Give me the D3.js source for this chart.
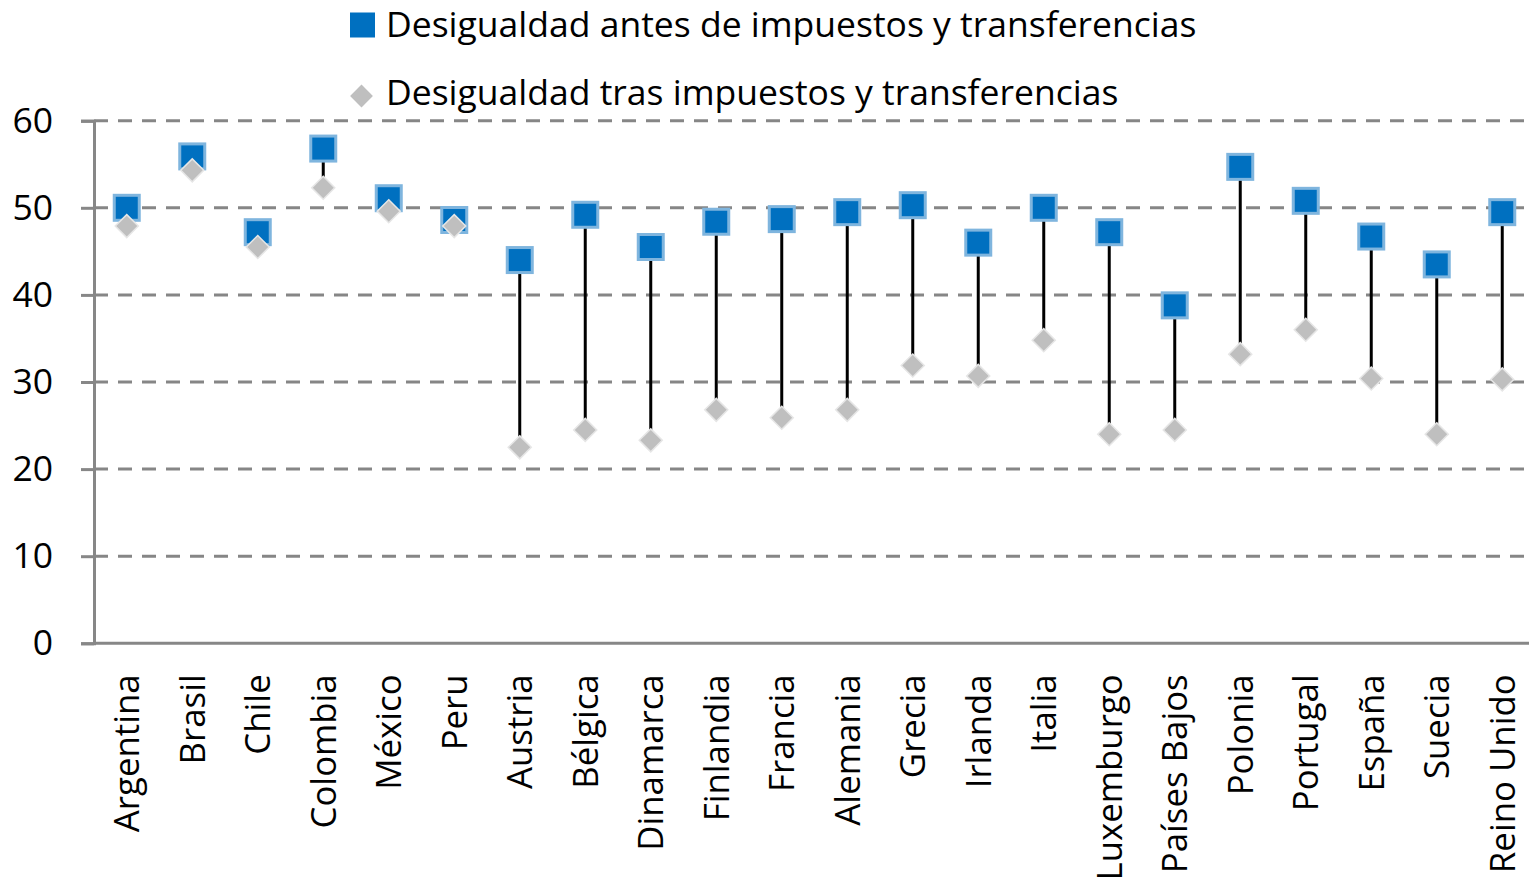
<!DOCTYPE html>
<html lang="es">
<head>
<meta charset="utf-8">
<script src="https://d3js.org/d3.v7.min.js"></script>
<style>
  body { margin: 0; background: #fff; }
  text { font-family: "Open Sans", sans-serif; fill: #000; }
</style>
</head>
<body>
<script>
// countries along the x axis
var countries = ["Argentina", "Brasil", "Chile", "Colombia", "México", "Peru",
  "Austria", "Bélgica", "Dinamarca", "Finlandia", "Francia", "Alemania",
  "Grecia", "Irlanda", "Italia", "Luxemburgo", "Países Bajos", "Polonia",
  "Portugal", "España", "Suecia", "Reino Unido"];

// inequality before taxes and transfers
var antes = [50.0, 55.9, 47.2, 56.8, 51.1, 48.6,
  44.0, 49.2, 45.5, 48.4, 48.7, 49.5,
  50.3, 46.0, 50.0, 47.2, 38.8, 54.7,
  50.8, 46.7, 43.5, 49.5];

// inequality after taxes and transfers
var tras = [47.9, 54.3, 45.5, 52.3, 49.6, 47.9,
  22.5, 24.5, 23.3, 26.8, 25.9, 26.8,
  31.9, 30.7, 34.8, 24.0, 24.5, 33.2,
  36.0, 30.4, 24.0, 30.3];

var yTicks = [0, 10, 20, 30, 40, 50, 60];

var seriesNames = ["Desigualdad antes de impuestos y transferencias",
  "Desigualdad tras impuestos y transferencias"];

var width = 1529, height = 883;
var fontSize = 35.5;
var labelSize = 34.8;

var svg = d3.select("body").append("svg")
  .attr("width", width)
  .attr("height", height);

var x = d3.scaleBand()
  .domain(countries)
  .range([94, 1535]);

var y = d3.scaleLinear()
  .domain([0, 60])
  .range([643.3, 120.7]);

function cx(c) { return x(c) + x.bandwidth() / 2; }

// dashed gridlines
svg.append("g").selectAll("line")
  .data(yTicks.filter(function(d) { return d > 0; }))
  .enter().append("line")
  .attr("x1", 94).attr("x2", width)
  .attr("y1", function(d) { return y(d); })
  .attr("y2", function(d) { return y(d); })
  .attr("stroke", "#868686")
  .attr("stroke-width", 3)
  .attr("stroke-dasharray", "14,10");

// y axis
var yAxis = svg.append("g")
  .attr("transform", "translate(94,0)")
  .call(d3.axisLeft(y).tickValues(yTicks).tickSize(13).tickPadding(28));
yAxis.selectAll("path, line").attr("stroke", "#878787").attr("stroke-width", 3);
yAxis.selectAll("text").style("font-size", fontSize + "px")
  .style("font-family", "'Open Sans', sans-serif").attr("fill", "#000");

// x axis
var xAxis = svg.append("g")
  .attr("transform", "translate(0," + y(0) + ")")
  .call(d3.axisBottom(x).tickSize(0).tickSizeOuter(0));
xAxis.select(".domain").attr("stroke", "#878787").attr("stroke-width", 3)
  .attr("d", "M94,0H" + width);
xAxis.selectAll("text")
  .style("font-size", labelSize + "px")
  .style("font-family", "'Open Sans', sans-serif")
  .attr("fill", "#000")
  .attr("text-anchor", "end")
  .attr("transform", "rotate(-90)")
  .attr("x", -31)
  .attr("y", 0)
  .attr("dy", "0.36em");

var rows = countries.map(function(c, i) {
  return { c: c, a: antes[i], t: tras[i] };
});

// high-low lines
svg.append("g").selectAll("line")
  .data(rows)
  .enter().append("line")
  .attr("x1", function(d) { return cx(d.c); })
  .attr("x2", function(d) { return cx(d.c); })
  .attr("y1", function(d) { return y(d.a); })
  .attr("y2", function(d) { return y(d.t); })
  .attr("stroke", "#000")
  .attr("stroke-width", 3);

// squares: before
var sq = 25;
svg.append("g").selectAll("rect")
  .data(rows)
  .enter().append("rect")
  .attr("x", function(d) { return cx(d.c) - sq / 2; })
  .attr("y", function(d) { return y(d.a) - sq / 2; })
  .attr("width", sq).attr("height", sq)
  .attr("fill", "#0070c0")
  .attr("stroke", "#7fb5de")
  .attr("stroke-width", 3);

// diamonds: after (square turned 45 degrees)
var diamond = d3.symbol().type(d3.symbolSquare).size(265);
svg.append("g").selectAll("path")
  .data(rows)
  .enter().append("path")
  .attr("d", diamond)
  .attr("transform", function(d) { return "translate(" + cx(d.c) + "," + y(d.t) + ") rotate(45)"; })
  .attr("fill", "#bfbfbf")
  .attr("stroke", "#e6e6e6")
  .attr("stroke-width", 1.5);

// legend
var legend = svg.append("g");
legend.append("rect")
  .attr("x", 350).attr("y", 12.5).attr("width", 25).attr("height", 25)
  .attr("fill", "#0070c0");
legend.append("path")
  .attr("d", d3.symbol().type(d3.symbolSquare).size(260))
  .attr("transform", "translate(361.5,96) rotate(45)")
  .attr("fill", "#bfbfbf");
legend.selectAll("text")
  .data(seriesNames)
  .enter().append("text")
  .attr("x", 386)
  .attr("y", function(d, i) { return 37 + i * 68; })
  .style("font-size", fontSize + "px")
  .text(function(d) { return d; });
</script>
</body>
</html>
